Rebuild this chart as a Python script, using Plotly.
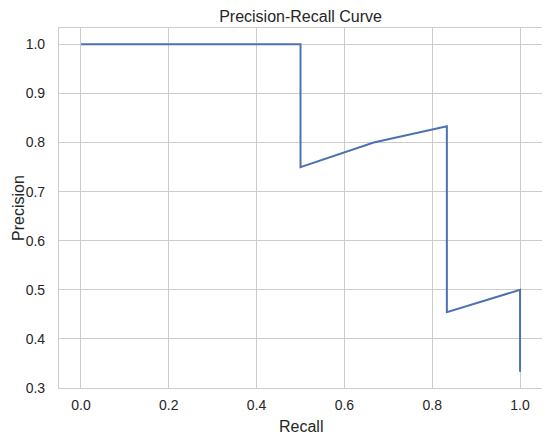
import plotly.graph_objects as go

# PR curve points
recall = [0.0, 0.5, 0.5, 0.6667, 0.8333, 0.8333, 1.0, 1.0]
precision = [1.0, 1.0, 0.75, 0.8, 0.8333, 0.4545, 0.5, 0.3333]

fig = go.Figure()

fig.add_trace(go.Scatter(
    x=recall,
    y=precision,
    mode='lines',
    line=dict(color='#4C72B0', width=2),
    showlegend=False
))

# page body has an 8px margin, so the figure is a bit smaller than the window
fig.update_layout(
    width=542,
    height=430,
    margin=dict(l=51, r=8, t=20, b=50),
    plot_bgcolor='white',
    paper_bgcolor='white',
    font=dict(family='Liberation Sans, Arial, sans-serif', size=14, color='#262626'),
    title=dict(text='Precision-Recall Curve', x=0.5, xanchor='center', xref='paper',
               y=1 - 8.5 / 430, yanchor='middle', font=dict(size=16)),
)

# axis titles as annotations so they sit where the reference has them
fig.add_annotation(text='Recall', xref='paper', yref='paper', x=0.5, y=0,
                   xanchor='center', yanchor='middle', yshift=-38,
                   showarrow=False, font=dict(size=16))
fig.add_annotation(text='Precision', xref='paper', yref='paper', x=0, y=0.5,
                   xanchor='center', yanchor='middle', xshift=-41, textangle=-90,
                   showarrow=False, font=dict(size=16))

fig.update_xaxes(
    range=[-0.05, 1.05], tick0=0, dtick=0.2, tickformat='.1f',
    showgrid=True, gridcolor='#cccccc', gridwidth=1,
    showline=True, linecolor='#cccccc', linewidth=1.2, mirror=True,
    zeroline=False, ticks='', ticklabelstandoff=4, automargin=False
)
fig.update_yaxes(
    range=[0.3, 1.0333], tick0=0.3, dtick=0.1, tickformat='.1f',
    showgrid=True, gridcolor='#cccccc', gridwidth=1,
    showline=True, linecolor='#cccccc', linewidth=1.2, mirror=True,
    zeroline=False, ticks='', ticklabelstandoff=10, automargin=False
)

fig.write_html("out.html")
